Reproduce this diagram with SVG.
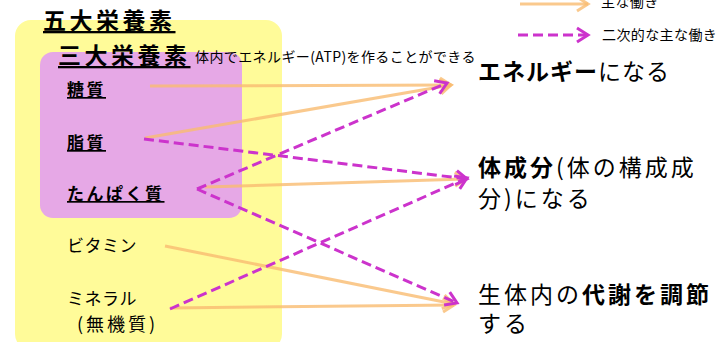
<svg xmlns="http://www.w3.org/2000/svg" width="726" height="342" viewBox="0 0 726 342">
<style>
text{font-family:"Noto Sans CJK JP","Noto Sans",sans-serif;fill:#000}
.h{font-size:23px;font-weight:bold;text-decoration:underline;letter-spacing:3.5px}
.n{font-size:17px;font-weight:bold;text-decoration:underline;letter-spacing:2.5px}
.p{font-size:17px;letter-spacing:0.5px}
.r{font-size:23px;letter-spacing:1px}
.r2{font-size:23px;letter-spacing:3px}
.b{font-weight:bold}
.s{font-size:14px;letter-spacing:0.4px}
.o{fill:none;stroke:#f9bb70;stroke-opacity:0.8;stroke-width:3}
.d{fill:none;stroke:#cc33cc;stroke-width:3;stroke-dasharray:10,5}
</style>
<defs>
<marker id="ao" markerUnits="userSpaceOnUse" markerWidth="16" markerHeight="18" refX="13" refY="9" orient="auto">
<path d="M2,2 L13,9 L2,16" fill="none" stroke="#f9bb70" stroke-opacity="0.8" stroke-width="3"/>
</marker>
<marker id="ap" markerUnits="userSpaceOnUse" markerWidth="16" markerHeight="18" refX="13" refY="9" orient="auto">
<path d="M2,2 L13,9 L2,16" fill="none" stroke="#cc33cc" stroke-width="3"/>
</marker>
</defs>
<g id="five">
<rect x="15" y="20" width="267" height="330" rx="16" fill="#fffb99"/>
<text class="h" x="43" y="29">五大栄養素</text>
</g>
<g id="three">
<rect x="40" y="52" width="202" height="166" rx="13" fill="#e6a8e6"/>
<text class="h" x="58" y="64">三大栄養素</text>
<text class="s" x="195" y="62">体内でエネルギー(ATP)を作ることができる</text>
</g>
<g id="toshitsu"><text class="n" x="67" y="96">糖質</text></g>
<g id="shishitsu"><text class="n" x="67" y="149">脂質</text></g>
<g id="tanpaku"><text class="n" x="67" y="200">たんぱく質</text></g>
<g id="vitamin"><text class="p" x="67" y="252">ビタミン</text></g>
<g id="mineral"><text class="p" x="67" y="305">ミネラル</text><text class="p" x="77" y="331" style="font-size:18px;letter-spacing:3px">(無機質)</text></g>
<g id="energy"><text class="r" x="478" y="80"><tspan class="b">エネルギー</tspan>になる</text></g>
<g id="body"><text class="r2" x="478" y="176"><tspan class="b">体成分</tspan>(体の構成成</text><text class="r2" x="478" y="207">分)になる</text></g>
<g id="metab"><text class="r2" x="478" y="303">生体内の<tspan class="b">代謝を調節</tspan></text><text class="r2" x="478" y="332">する</text></g>
<g id="legend">
<line class="o" x1="520" y1="4" x2="588" y2="4" marker-end="url(#ao)"/>
<text class="s" x="601" y="7">主な働き</text>
<line class="d" x1="518" y1="35" x2="588" y2="35" marker-end="url(#ap)"/>
<text class="s" x="602" y="40">二次的な主な働き</text>
</g>
<g id="connectors">
<line class="o" x1="150" y1="86" x2="451" y2="85" marker-end="url(#ao)"/>
<line class="o" x1="145" y1="138" x2="451" y2="85" marker-end="url(#ao)"/>
<line class="o" x1="205" y1="187" x2="466" y2="179" marker-end="url(#ao)"/>
<line class="o" x1="165" y1="246" x2="454" y2="304" marker-end="url(#ao)"/>
<line class="o" x1="170" y1="308" x2="454" y2="305" marker-end="url(#ao)"/>
<line class="d" x1="144" y1="139" x2="467" y2="179" marker-end="url(#ap)"/>
<line class="d" x1="197" y1="189" x2="447" y2="83" marker-end="url(#ap)"/>
<line class="d" x1="197" y1="189" x2="457" y2="303" marker-end="url(#ap)"/>
<line class="d" x1="170" y1="309" x2="467" y2="178" marker-end="url(#ap)"/>
</g>
</svg>
